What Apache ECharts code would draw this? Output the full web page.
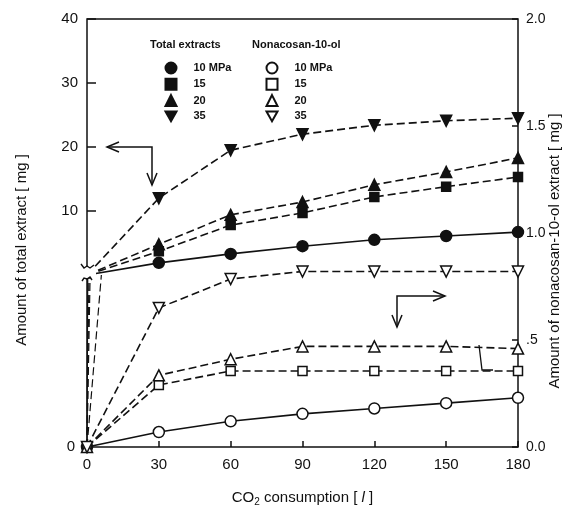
<!DOCTYPE html>
<html>
<head>
<meta charset="utf-8">
<script src="https://cdn.jsdelivr.net/npm/echarts@6/dist/echarts.min.js"></script>
<style>
html, body { margin: 0; padding: 0; background: #fff; }
#chart { width: 568px; height: 506px; }
</style>
</head>
<body>
<div id="chart"></div>
<script>
/* ---------- data ---------- */
var consumption = [0, 30, 60, 90, 120, 150, 180];

// total extracts [mg], left axis
var total10 = [0, 1.9, 3.3, 4.5, 5.5, 6.1, 6.7];
var total15 = [0, 3.7, 7.8, 9.7, 12.2, 13.8, 15.3];
var total20 = [0, 4.8, 9.4, 11.4, 14.1, 16.1, 18.3];
var total35 = [0, 12.0, 19.5, 22.0, 23.4, 24.1, 24.5];

// nonacosan-10-ol [mg], right axis
var nona10 = [0, 0.07, 0.12, 0.155, 0.18, 0.205, 0.23];
var nona15 = [0, 0.29, 0.355, 0.355, 0.355, 0.355, 0.355];
var nona20 = [0, 0.335, 0.41, 0.47, 0.47, 0.47, 0.46];
var nona35 = [0, 0.65, 0.785, 0.82, 0.82, 0.82, 0.82];

var pressureLabels = ['10 MPa', '15', '20', '35'];
var rightTicks = [0, 0.5, 1.0, 1.5, 2.0];
var rightTickLabels = ['0.0', '.5', '1.0', '1.5', '2.0'];

// where the total-extract lines leave the bottom origin before the axis break
var breakLinkX = [0.3, 0.8, 1.3, 6];

/* ---------- layout ---------- */
var INK = '#111';
var FONT = '"Liberation Sans", Arial, Helvetica, sans-serif';
var PLOT_H = 428;     // whole plot (right axis 0 - 2.0)
var UPPER_H = 256;    // upper part above the break (left axis 0 - 40)
var breakLevel = 2.0 * (1 - UPPER_H / PLOT_H);   // upper "0" in right-axis units

var symbols = ['circle', 'rect', 'triangle', 'path://M0,0L10,0L5,9Z'];
var dashes = ['solid', [8, 4], [8, 4], [8, 4]];

function makeSeries(name, values, xIdx, yIdx, idx, filled, hideFirst) {
    return {
        name: name,
        type: 'line',
        xAxisIndex: xIdx,
        yAxisIndex: yIdx,
        symbol: symbols[idx],
        symbolSize: idx === 1 ? 9 : 11,
        clip: false,
        lineStyle: { color: INK, width: 1.6, type: dashes[idx] },
        itemStyle: {
            color: filled ? INK : '#fff',
            borderColor: INK,
            borderWidth: 1.5
        },
        z: 3,
        data: consumption.map(function (x, i) {
            var item = { value: [x, values[i]] };
            if (hideFirst && i === 0) item.symbol = 'none';
            return item;
        })
    };
}

var totalNames = ['T 10', 'T 15', 'T 20', 'T 35'];
var nonaNames = ['N 10', 'N 15', 'N 20', 'N 35'];
var totalSets = [total10, total15, total20, total35];
var nonaSets = [nona10, nona15, nona20, nona35];

var series = [];
totalSets.forEach(function (v, i) {
    series.push(makeSeries(totalNames[i], v, 1, 2, i, true, true));
});
nonaSets.forEach(function (v, i) {
    series.push(makeSeries(nonaNames[i], v, 0, 0, i, false, false));
});

// steep lines from the origin up to the axis break
breakLinkX.forEach(function (bx, i) {
    series.push({
        type: 'line',
        xAxisIndex: 0,
        yAxisIndex: 0,
        symbol: 'none',
        silent: true,
        lineStyle: { color: INK, width: 1.2, type: dashes[i] },
        data: [[0, 0], [bx, breakLevel]]
    });
});

function legendFor(names, left) {
    return {
        orient: 'vertical',
        left: left,
        top: 56.5,
        itemWidth: 11,
        itemHeight: 11,
        itemGap: 3.3,
        data: names.map(function (n, i) { return { name: n, icon: symbols[i] }; }),
        formatter: function (n) { return pressureLabels[names.indexOf(n)]; },
        textStyle: {
            color: INK, fontFamily: FONT, fontSize: 11, fontWeight: 'bold',
            lineHeight: 11, padding: [0, 0, 0, 12]
        }
    };
}

function arrow(points, head1, head2) {
    var style = { stroke: INK, lineWidth: 1.5, fill: null };
    return [
        { type: 'polyline', shape: { points: points }, style: style, z: 10 },
        { type: 'polyline', shape: { points: head1 }, style: style, z: 10 },
        { type: 'polyline', shape: { points: head2 }, style: style, z: 10 }
    ];
}

var graphics = [
    { type: 'text', left: 150, top: 39, z: 10,
      style: { text: 'Total extracts', fill: INK, font: 'bold 11px ' + FONT } },
    { type: 'text', left: 252, top: 39, z: 10,
      style: { text: 'Nonacosan-10-ol', fill: INK, font: 'bold 11px ' + FONT } },
    // right axis title
    { type: 'text', x: 555, y: 251, rotation: Math.PI / 2, z: 10,
      style: {
          text: 'Amount of nonacosan-10-ol extract [ mg ]', fill: INK,
          font: '15px ' + FONT, align: 'center', verticalAlign: 'middle'
      } },
    // axis break on the left axis
    { type: 'rect', shape: { x: 81, y: 267, width: 15, height: 11 }, style: { fill: '#fff' }, z: 20 },
    { type: 'polyline', shape: { points: [[81, 264], [84, 268], [87, 266], [90, 268], [94, 265]] },
      style: { stroke: INK, lineWidth: 1.4, fill: null }, z: 21 },
    { type: 'polyline', shape: { points: [[82, 281], [84, 278], [87, 279], [90, 277], [92, 280]] },
      style: { stroke: INK, lineWidth: 1.4, fill: null }, z: 21 },
    // stray bracket mark near the right edge
    { type: 'polyline', shape: { points: [[479, 345], [482, 370], [493, 370]] },
      style: { stroke: INK, lineWidth: 1.3, fill: null }, z: 10 }
];
graphics = graphics.concat(
    arrow([[107, 147], [152, 147], [152, 185]],
          [[119, 142], [107, 147], [119, 152]],
          [[147, 173], [152, 185], [157, 173]]),
    arrow([[445, 296], [397, 296], [397, 327]],
          [[433, 291], [445, 296], [433, 301]],
          [[392, 315], [397, 327], [402, 315]])
);

var tickStyle = { color: INK, width: 1.5 };
var labelBase = { color: INK, fontSize: 15, fontFamily: FONT };
var noLine = { show: false, onZero: false };

var chart = echarts.init(document.getElementById('chart'), null, { renderer: 'canvas' });

chart.setOption({
    animation: false,
    backgroundColor: '#fff',
    textStyle: { fontFamily: FONT, color: INK },
    grid: [
        {
            left: 87, right: 50, top: 19, height: PLOT_H,
            show: true, borderColor: INK, borderWidth: 1.5,
            outerBoundsMode: 'none'
        },
        {
            left: 87, right: 50, top: 19, height: UPPER_H,
            outerBoundsMode: 'none'
        }
    ],
    legend: [legendFor(totalNames, 159.5), legendFor(nonaNames, 260.5)],
    xAxis: [
        {
            type: 'value',
            gridIndex: 0,
            min: 0, max: 180, interval: 30,
            axisLine: noLine,
            splitLine: { show: false },
            axisTick: { inside: true, length: 6, lineStyle: tickStyle },
            axisLabel: Object.assign({ margin: 10 }, labelBase),
            name: '{a|CO}{s|2}{a| consumption [ }{i|l}{a| ]}',
            nameLocation: 'middle',
            nameGap: 42,
            nameTextStyle: {
                rich: {
                    a: { fontSize: 15, color: INK, fontFamily: FONT },
                    s: { fontSize: 10, color: INK, fontFamily: FONT, padding: [8, 0, 0, 0] },
                    i: { fontSize: 15, color: INK, fontFamily: FONT, fontStyle: 'italic' }
                }
            }
        },
        {
            type: 'value',
            gridIndex: 1,
            min: 0, max: 180,
            show: false
        }
    ],
    yAxis: [
        {
            // right axis: nonacosan-10-ol (title drawn as graphic text)
            type: 'value',
            gridIndex: 0,
            position: 'right',
            min: 0, max: 2.0, interval: 0.5,
            axisLine: noLine,
            splitLine: { show: false },
            axisTick: { inside: true, length: 6, lineStyle: tickStyle },
            axisLabel: {
                color: INK, fontSize: 14, fontFamily: FONT, margin: 8,
                formatter: function (v) { return rightTickLabels[rightTicks.indexOf(v)]; }
            }
        },
        {
            // left axis, lower part: only the common "0" at the origin
            type: 'value',
            gridIndex: 0,
            position: 'left',
            min: 0, max: 2.0, interval: 2.0,
            axisLine: noLine,
            splitLine: { show: false },
            axisTick: { show: false },
            axisLabel: Object.assign({
                margin: 12,
                formatter: function (v) { return v === 0 ? '0' : ''; }
            }, labelBase),
            name: 'Amount of total extract [ mg ]',
            nameLocation: 'middle',
            nameRotate: 90,
            nameGap: 58,
            nameTextStyle: { fontSize: 15, color: INK, padding: [0, 34, 0, 0] }
        },
        {
            // left axis, upper part above the break: total extract
            type: 'value',
            gridIndex: 1,
            position: 'left',
            min: 0, max: 40, interval: 10,
            axisLine: noLine,
            splitLine: { show: false },
            axisTick: { inside: true, length: 9, lineStyle: tickStyle },
            axisLabel: Object.assign({
                margin: 9,
                formatter: function (v) { return v === 0 ? '' : String(v); }
            }, labelBase)
        }
    ],
    graphic: graphics,
    series: series
});
</script>
</body>
</html>
